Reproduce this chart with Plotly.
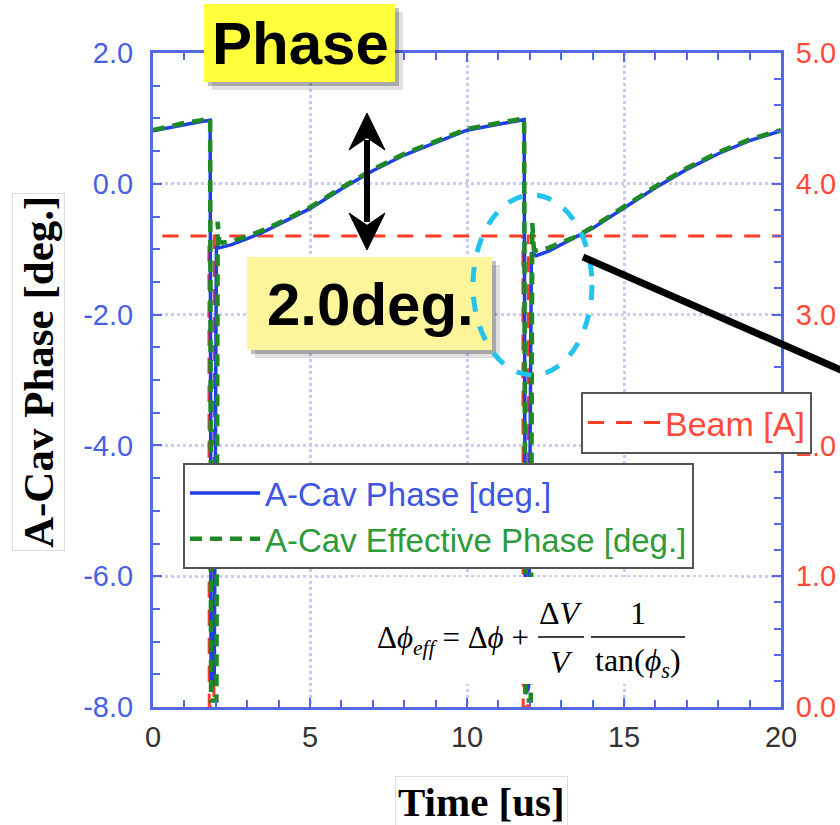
import plotly.graph_objects as go

# ---------------- data ----------------
time_phase = [0.0, 0.5, 1.0, 1.5, 1.82, 1.85, 1.95, 2.02, 2.1, 2.5, 3.0, 3.5, 4.0,
              5.0, 6.0, 7.0, 8.0, 9.0, 10.0, 11.0, 11.82, 11.86, 11.96, 12.05, 12.2,
              12.6, 13.0, 13.5, 14.0, 15.0, 16.0, 17.0, 18.0, 19.0, 20.0]
acav_phase = [0.81, 0.86, 0.91, 0.95, 0.97, -7.7, -7.6, -0.95, -0.98, -0.93, -0.84, -0.74, -0.62,
              -0.38, -0.08, 0.20, 0.44, 0.63, 0.82, 0.91, 0.98, -7.8, -7.7, -1.05, -1.10,
              -1.03, -0.93, -0.82, -0.68, -0.37, -0.06, 0.22, 0.46, 0.66, 0.81]

time_eff = [0.0, 0.5, 1.0, 1.5, 1.82, 1.85, 2.02, 2.06, 2.11, 2.2, 2.5, 3.0, 3.5, 4.0,
            5.0, 6.0, 7.0, 8.0, 9.0, 10.0, 11.0, 11.82, 11.86, 12.03, 12.08, 12.13, 12.2,
            12.6, 13.0, 13.5, 14.0, 15.0, 16.0, 17.0, 18.0, 19.0, 20.0]
acav_eff = [0.82, 0.88, 0.93, 0.97, 1.00, -7.9, -7.9, -0.58, -0.88, -0.90, -0.88, -0.80, -0.71, -0.60,
            -0.36, -0.06, 0.22, 0.46, 0.65, 0.84, 0.93, 1.00, -7.9, -7.9, -0.60, -1.00, -1.02,
            -0.98, -0.90, -0.80, -0.66, -0.35, -0.04, 0.24, 0.48, 0.68, 0.82]

time_beam = [0.3, 1.78, 1.79, 1.94, 1.95, 11.78, 11.79, 11.94, 11.95, 20.0]
beam_current = [3.6, 3.6, 0.0, 0.0, 3.6, 3.6, 0.0, 0.0, 3.6, 3.6]

x_ticks = [0, 5, 10, 15, 20]
x_ticktext = ["0", "5", "10", "15", "20"]
phase_ticks = [2, 0, -2, -4, -6, -8]
phase_ticktext = ["2.0", "0.0", "-2.0", "-4.0", "-6.0", "-8.0"]
beam_ticks = [0, 1, 2, 3, 4, 5]
beam_ticktext = ["0.0", "1.0", "2.0", "3.0", "4.0", "5.0"]

# ---------------- geometry helpers ----------------
W, H = 840, 825
L, R, T, B = 153, 59, 53, 118
PW, PH = W - L - R, H - T - B


def px(x):
    return (x - L) / PW


def py(y):
    return (H - B - y) / PH


BLUE = "#1f3fe6"
GREEN = "#1f8a25"
RED = "#ff3b2a"
AXIS = "#5468e3"
GRID = "rgb(200,204,245)"
SANS = "Liberation Sans"
SERIF = "Liberation Serif"

fig = go.Figure()

fig.add_trace(go.Scatter(
    x=time_beam, y=beam_current, mode="lines", yaxis="y",
    name="<span style='color:#ff4a3a'>Beam [A]</span>",
    line=dict(color=RED, width=3, dash="16px,12px"), legend="legend2"))

fig.add_trace(go.Scatter(
    x=time_phase, y=acav_phase, mode="lines", yaxis="y2",
    name="<span style='color:#3d55e2'>A-Cav Phase [deg.]</span>",
    line=dict(color=BLUE, width=3.5), legend="legend"))

fig.add_trace(go.Scatter(
    x=time_eff, y=acav_eff, mode="lines", yaxis="y2",
    name="<span style='color:#2f9a3a'>A-Cav Effective Phase [deg.]</span>",
    line=dict(color=GREEN, width=4.5, dash="12px,8px"), legend="legend"))

shapes = []


def rect(x0, y0, x1, y1, fill, line_color=None, lw=0):
    shapes.append(dict(type="rect", xref="paper", yref="paper", layer="above",
                       x0=px(x0), x1=px(x1), y0=py(y1), y1=py(y0),
                       fillcolor=fill,
                       line=dict(color=line_color or fill, width=lw)))


# formula box
rect(347, 577, 737, 684, "white")

# "Phase" box with shadow
rect(212, 12, 403, 90, "rgba(0,0,0,0.12)")
rect(208, 8, 399, 86, "rgba(0,0,0,0.25)")
rect(204, 4, 395, 82, "#ffff3c")
# "2.0deg." box with shadow
rect(255, 265, 500, 358, "rgba(0,0,0,0.12)")
rect(251, 261, 496, 354, "rgba(0,0,0,0.25)")
rect(247, 257, 492, 350, "#fdf59c")

# double arrow
ax = 367
shapes.append(dict(type="line", xref="paper", yref="paper", layer="above",
                   x0=px(ax), x1=px(ax), y0=py(140), y1=py(222),
                   line=dict(color="black", width=6)))
for tip, base in [(113, 150), (250, 213)]:
    shapes.append(dict(type="path", xref="paper", yref="paper", layer="above",
                       path=f"M{px(ax)},{py(tip)} L{px(ax-18)},{py(base)} "
                            f"L{px(ax)},{py((tip+2*base)/3)} L{px(ax+18)},{py(base)} Z",
                       fillcolor="black", line=dict(color="black", width=1)))

# cyan dashed ellipse
shapes.append(dict(type="circle", xref="paper", yref="paper", layer="above",
                   x0=px(473), x1=px(592), y0=py(375), y1=py(195),
                   line=dict(color="#22c3ee", width=5, dash="dash")))
# black pointer line
shapes.append(dict(type="line", xref="paper", yref="paper", layer="above",
                   x0=px(583), y0=py(257), x1=px(850), y1=py(374),
                   line=dict(color="black", width=7)))

annotations = []


def text(x, y, s, size, family=SANS, color="black", xanchor="center", **kw):
    annotations.append(dict(xref="paper", yref="paper", x=px(x), y=py(y), text=s,
                            showarrow=False, xanchor=xanchor, yanchor="middle",
                            font=dict(family=family, size=size, color=color), **kw))


text(300, 44, "<b>Phase</b>", 60)
text(370, 304, "<b>2.0deg.</b>", 60)

# formula
text(531, 640, "Δ<i>ϕ</i><sub><i>eff</i></sub> = Δ<i>ϕ</i> +", 31, SERIF, xanchor="right")
text(561, 613, "Δ<i>V</i>", 32, SERIF)
text(561, 662, "<i>V</i>", 32, SERIF)
text(638, 613, "1", 32, SERIF)
text(638, 662, "tan(<i>ϕ</i><sub><i>s</i></sub>)", 32, SERIF)
for x0, x1 in [(538, 584), (591, 685)]:
    shapes.append(dict(type="line", xref="paper", yref="paper", layer="above",
                       x0=px(x0), x1=px(x1), y0=py(637), y1=py(637),
                       line=dict(color="black", width=1.5)))

# axis titles
text(38, 372, "<b>A-Cav Phase [deg.]</b>", 43, SERIF, textangle=-90,
     bgcolor="white", bordercolor="#dddddd", borderwidth=1, borderpad=2)
text(481, 802, "<b>Time [us]</b>", 41, SERIF,
     bgcolor="white", bordercolor="#dddddd", borderwidth=1, borderpad=2)

fig.update_layout(
    width=W, height=H,
    margin=dict(l=L, r=R, t=T, b=B, pad=0, autoexpand=False),
    paper_bgcolor="white", plot_bgcolor="white",
    showlegend=True,
    xaxis=dict(range=[0, 20], tickmode="array", tickvals=x_ticks, ticktext=x_ticktext,
               ticks="inside", ticklen=9, tickwidth=2, tickcolor=AXIS,
               showline=True, linecolor=AXIS, linewidth=3, mirror="ticks",
               showgrid=True, gridcolor=GRID, gridwidth=3, griddash="dot",
               zeroline=False, ticklabelstandoff=2, automargin=False,
               tickfont=dict(family=SANS, size=29, color="#333333"),
               minor=dict(dtick=1, ticks="inside", ticklen=7, tickwidth=2,
                          tickcolor=AXIS, showgrid=False)),
    yaxis=dict(range=[0, 5], side="right", tickmode="array", tickvals=beam_ticks,
               ticktext=beam_ticktext, ticks="inside", ticklen=9, tickwidth=2,
               tickcolor=AXIS, showline=True, linecolor=AXIS, linewidth=3,
               showgrid=False, zeroline=False, ticklabelstandoff=6, automargin=False,
               tickfont=dict(family=SANS, size=29, color="#ff4a3a"),
               minor=dict(dtick=0.2, ticks="inside", ticklen=7, tickwidth=2,
                          tickcolor=AXIS, showgrid=False)),
    yaxis2=dict(range=[-8, 2], side="left", overlaying="y", anchor="x",
                tickmode="array", tickvals=phase_ticks, ticktext=phase_ticktext,
                ticks="inside", ticklen=9, tickwidth=2, tickcolor=AXIS,
                showline=True, linecolor=AXIS, linewidth=3,
                showgrid=True, gridcolor=GRID, gridwidth=3, griddash="dot",
                zeroline=False, ticklabelstandoff=11, automargin=False,
                tickfont=dict(family=SANS, size=29, color="#4a5fe4"),
                minor=dict(dtick=0.5, ticks="inside", ticklen=7, tickwidth=2,
                           tickcolor=AXIS, showgrid=False)),
    legend=dict(x=px(183), y=py(463), xanchor="left", yanchor="top",
                bgcolor="white", bordercolor="#555555", borderwidth=2,
                font=dict(family=SANS, size=33), itemwidth=70, tracegroupgap=0),
    legend2=dict(x=px(581), y=py(392), xanchor="left", yanchor="top",
                 bgcolor="white", bordercolor="#555555", borderwidth=2,
                 font=dict(family=SANS, size=34), itemwidth=72),
    shapes=shapes,
    annotations=annotations,
)

fig.write_html("out.html")
